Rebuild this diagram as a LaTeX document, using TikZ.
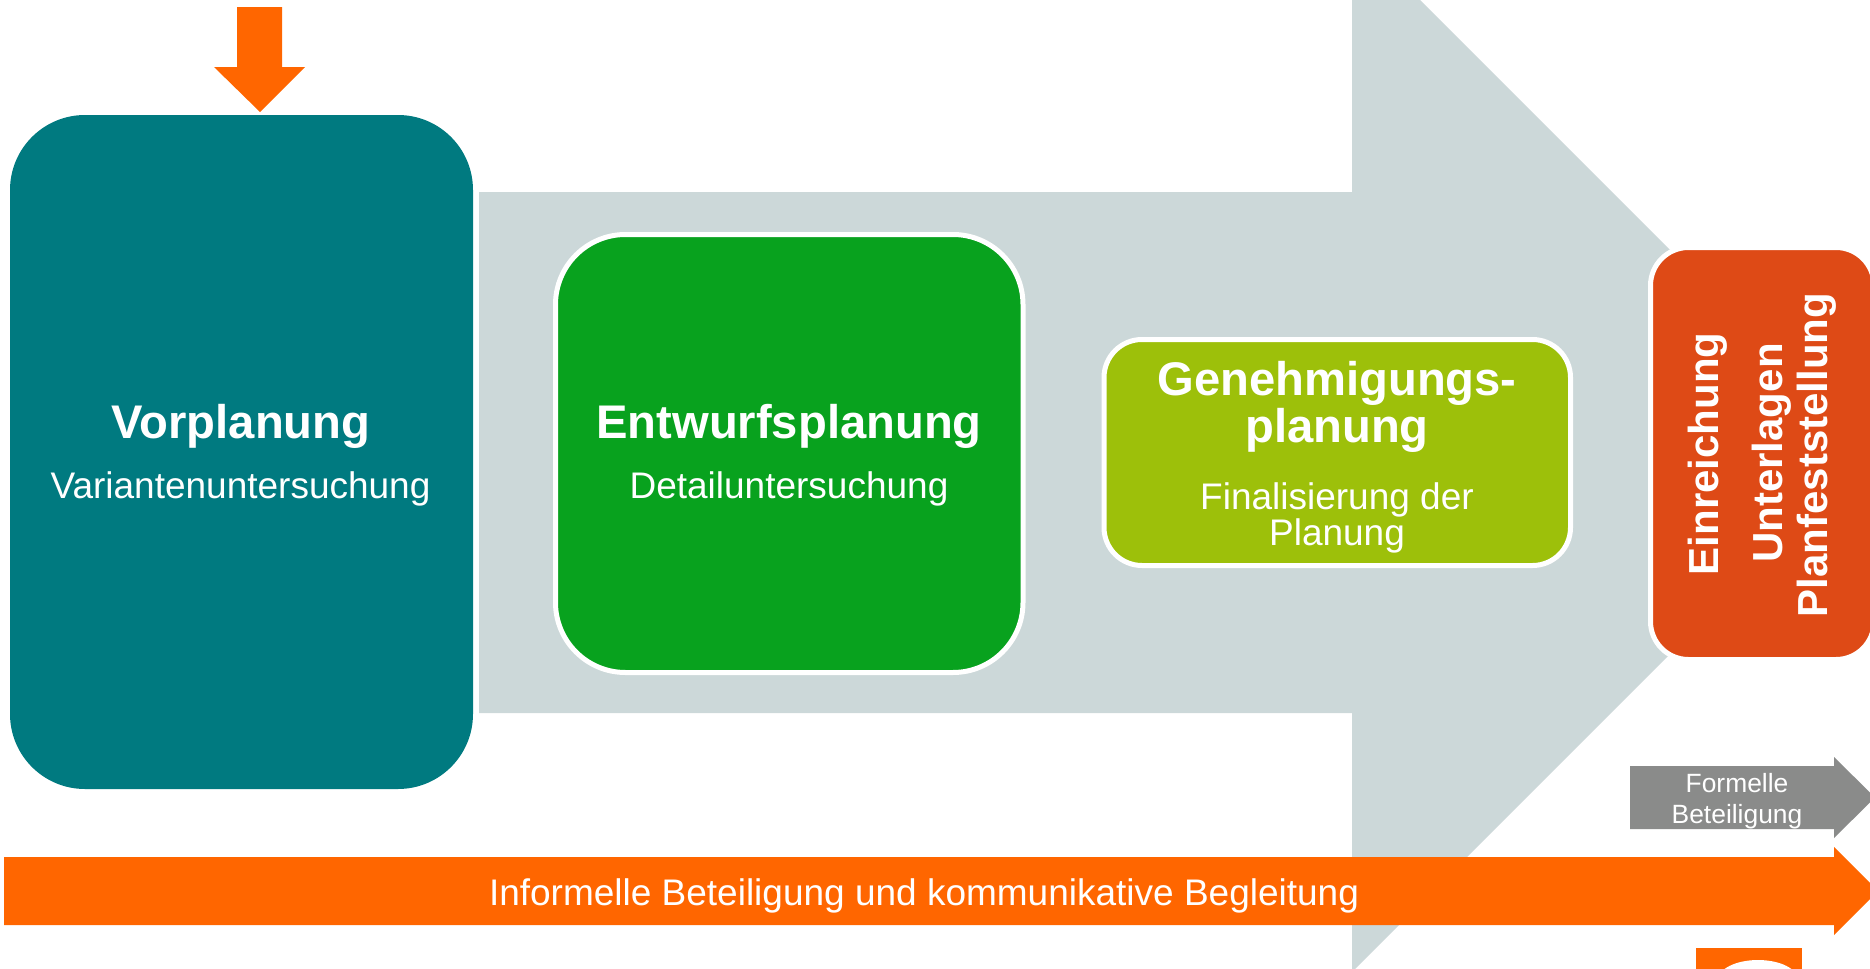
\documentclass[tikz,border=0pt]{standalone}
\usepackage{fontspec}
\setmainfont{Liberation Sans}

\definecolor{vorteal}{HTML}{007A80}
\definecolor{pfeilgrau}{HTML}{CCD8D9}
\definecolor{entwgruen}{HTML}{08A21E}
\definecolor{genoliv}{HTML}{9DC00A}
\definecolor{einrot}{HTML}{DE4A16}
\definecolor{betorange}{HTML}{FF6600}
\definecolor{formgrau}{HTML}{8A8B8A}

\tikzset{
    phase/.style={rectangle, inner sep=0pt, draw=white, line width=2.5pt},
    titel/.style={text=white, inner sep=0pt, font=\bfseries\fontsize{23.6}{23.5}\selectfont},
    untertitel/.style={text=white, inner sep=0pt, font=\fontsize{18.5}{18}\selectfont},
    hochtext/.style={text=white, inner sep=0pt, rotate=90, anchor=base, font=\bfseries\fontsize{21}{21}\selectfont},
}

\begin{document}
\begin{tikzpicture}[x=0.5pt, y=-0.5pt]
    \useasboundingbox (0,0) rectangle (1870,969);
    \clip (0,0) rectangle (1870,969);
    \fill[pfeilgrau] (479,192) -- (1352,192) -- (1352,-68) -- (1872,452) -- (1352,972) -- (1352,713) -- (479,713) -- cycle;

    \node[phase, draw=none, fill=vorteal, rounded corners=37.5pt, minimum width=231.5pt, minimum height=337pt] (vor) at (241.5,452) {};
    \node[phase, fill=entwgruen, rounded corners=35pt, minimum width=233.75pt, minimum height=219pt] (entw) at (789.25,453.5) {};
    \node[phase, fill=genoliv, rounded corners=19pt, minimum width=233.25pt, minimum height=113pt] (gen) at (1337.25,452.5) {};
    \node[phase, fill=einrot, rounded corners=19pt, minimum width=111.75pt, minimum height=206pt] (einr) at (1762.25,453.5) {};

    \node[titel, anchor=base] (vorT) at (241,438) {Vorplanung};
    \node[untertitel, anchor=base] (vorU) at (240.5,498) {Variantenuntersuchung};
    \node[titel, anchor=base] (entwT) at (789,438) {Entwurfsplanung};
    \node[untertitel, anchor=base] (entwU) at (789,498) {Detailuntersuchung};
    \node[titel, anchor=north, align=center] (genT) at (1337,361) {Genehmigungs-\\planung};
    \node[untertitel, anchor=north, align=center] (genU) at (1337,482) {Finalisierung der\\Planung};
    \node[hochtext] (einr1) at (1718,454) {Einreichung};
    \node[hochtext] (einr2) at (1782,453) {Unterlagen};
    \node[hochtext] (einr3) at (1827,455) {Planfeststellung};

    \fill[formgrau] (1630,766) -- (1834,766) -- (1834,757) -- (1875,797.5) -- (1834,838) -- (1834,829) -- (1630,829) -- cycle;
    \node[text=white, inner sep=0pt, anchor=north, align=center, font=\fontsize{13.2}{15.5}\selectfont] (formT) at (1737,773) {Formelle\\Beteiligung};

    \fill[betorange] (4,857) -- (1834,857) -- (1834,847) -- (1878,891) -- (1834,935) -- (1834,925) -- (4,925) -- cycle;
    \node[untertitel, anchor=base] (infT) at (924,905) {Informelle Beteiligung und kommunikative Begleitung};

    \fill[betorange] (237,7) -- (282,7) -- (282,67) -- (305,67) -- (260,112) -- (214,67) -- (237,67) -- cycle;

    \fill[betorange] (1696,948) rectangle (1802,975);
    \fill[white] (1758,980) ellipse [x radius=40, y radius=20];
\end{tikzpicture}
\end{document}
